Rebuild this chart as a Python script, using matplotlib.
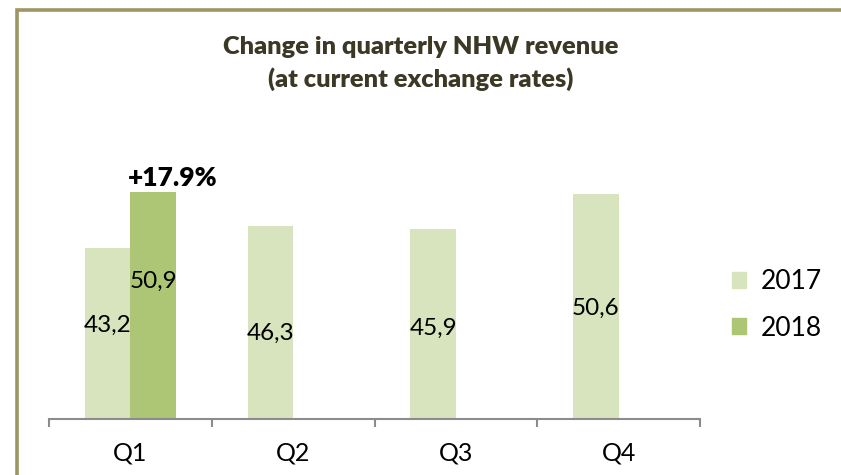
import numpy as np
import matplotlib
matplotlib.use("Agg")
import matplotlib.pyplot as plt
from matplotlib.lines import Line2D
from matplotlib.patches import Patch

quarters = ["Q1", "Q2", "Q3", "Q4"]
rev_2017 = [43.2, 46.3, 45.9, 50.6]
rev_2018 = [50.9]
labels_2017 = ["43,2", "46,3", "45,9", "50,6"]
labels_2018 = ["50,9"]
growth_text = "+17.9%"

c2017 = "#d8e4bd"
c2018 = "#adc675"
frame_col = "#9d9662"
title_col = "#3b3825"

plt.rcParams["font.family"] = ["Lato", "DejaVu Sans"]

fig = plt.figure(figsize=(8.41, 4.75), dpi=100)
ax = fig.add_axes([49 / 841, 1 - 419 / 475, 651 / 841, 294 / 475])

x = np.arange(len(quarters))
w = 0.28
ax.bar(x - w / 2, rev_2017, w, color=c2017, label="2017")
ax.bar(x[:len(rev_2018)] + w / 2, rev_2018, w, color=c2018, label="2018")

# value labels sit inside the bars, hand-placed like the original slide
lab_y17 = [32.7, 31.7, 32.4, 35.1]
lab_y18 = [38.7]
for i, t in enumerate(labels_2017):
    ax.text(x[i] - w / 2, lab_y17[i], t, ha="center", va="center", fontsize=17.5, color="black")
for i, t in enumerate(labels_2018):
    ax.text(x[i] + w / 2, lab_y18[i], t, ha="center", va="center", fontsize=17.5, color="black")

ax.annotate(growth_text, xy=(x[0] + w / 2, rev_2018[0]), xytext=(14, 1),
            textcoords="offset points", ha="center", va="bottom",
            fontsize=19, fontweight="heavy", color="black")

ax.set_xlim(-0.5, 3.5)
ax.set_ylim(20, 60)
for s in ["top", "right", "left"]:
    ax.spines[s].set_visible(False)
ax.spines["bottom"].set_color("#8c8c8c")
ax.spines["bottom"].set_linewidth(1.5)
ax.set_yticks([])
ax.set_xticks(x)
ax.set_xticklabels(quarters, fontsize=18)
ax.set_xticks(np.arange(-0.5, 4, 1), minor=True)
ax.tick_params(axis="x", which="major", length=0, pad=16)
ax.tick_params(axis="x", which="minor", length=6, width=1.5, color="#8c8c8c", direction="out")

handles = [Patch(color=c2017, label="2017"), Patch(color=c2018, label="2018")]
fig.legend(handles=handles, loc="center left", bbox_to_anchor=(708 / 841, 1 - 305 / 475),
           frameon=False, fontsize=19, handlelength=0.55, handleheight=0.55,
           handletextpad=0.55, labelspacing=0.8)

fig.text(421 / 841, 1 - 36 / 475, "Change in quarterly NHW revenue\n(at current exchange rates)",
         ha="center", va="top", fontsize=18.3, fontweight="heavy", color=title_col, linespacing=1.45)

# slide frame: left and top edges only
fig.add_artist(Line2D([17 / 841, 17 / 841, 1], [0, 1 - 9.5 / 475, 1 - 9.5 / 475],
                      transform=fig.transFigure, color=frame_col, lw=2.6,
                      solid_joinstyle="miter"))

fig.savefig("out.png", dpi=100)
